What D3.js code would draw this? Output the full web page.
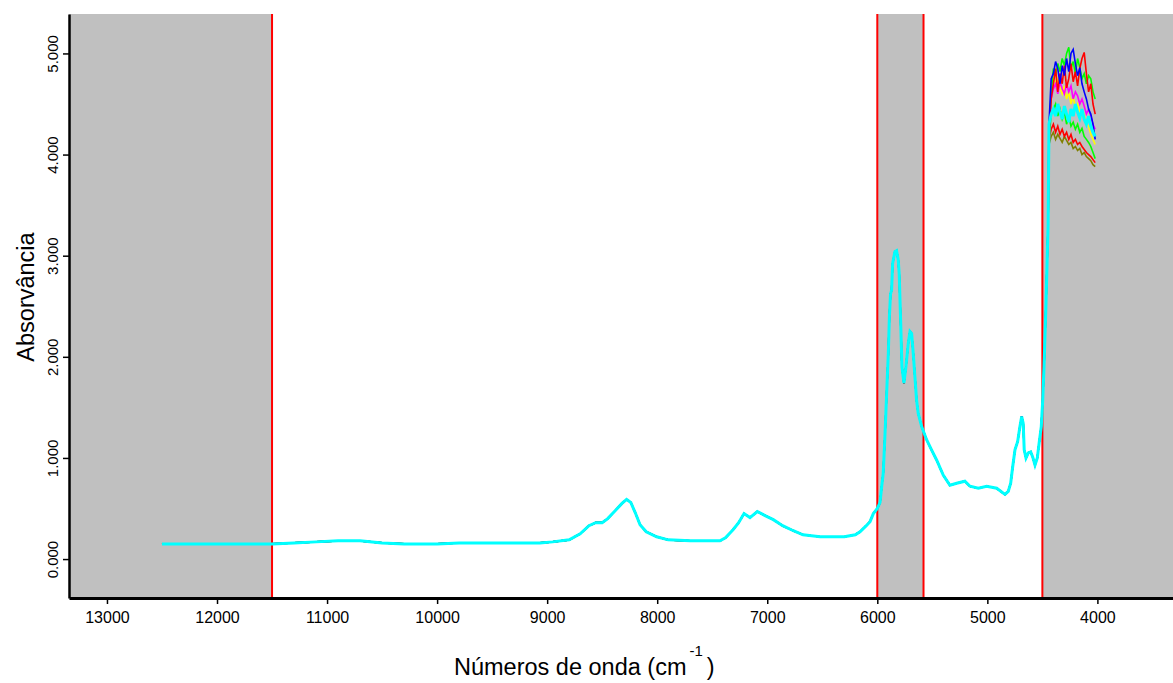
<!DOCTYPE html>
<html>
<head>
<meta charset="utf-8">
<script src="https://cdn.jsdelivr.net/npm/d3@7"></script>
<style>
  html, body { margin: 0; padding: 0; background: #ffffff; }
  svg { display: block; }
  text { font-family: "Liberation Sans", Arial, sans-serif; fill: #000; }
</style>
</head>
<body>
<svg id="chart" width="1173" height="683"></svg>
<script>
// Common NIR spectrum shared by all samples (cm-1, absorbance)
const baseWavenumbers = [12500, 12000, 11500, 11300, 11100, 10900, 10700, 10500, 10300, 10000,
  9800, 9500, 9200, 9065, 8950, 8800, 8700, 8620, 8560, 8500, 8450, 8380, 8320, 8278, 8240,
  8200, 8156, 8100, 8005, 7900, 7700, 7500, 7430, 7380, 7311, 7260, 7211, 7157, 7090, 7020,
  6945, 6860, 6763, 6675, 6520, 6300, 6200, 6157, 6100, 6066, 6036, 6000, 5975, 5960, 5946,
  5931, 5915, 5900, 5890, 5880, 5870, 5861, 5840, 5825, 5810, 5801, 5788, 5776, 5758, 5740, 5719,
  5703, 5688, 5673, 5658, 5643, 5628, 5597, 5552, 5507, 5461, 5401, 5340, 5279, 5204, 5158,
  5082, 5006, 4915, 4840, 4810, 4788, 4770, 4749, 4725, 4704, 4688, 4674, 4665, 4649, 4628,
  4606, 4588, 4567, 4546, 4528, 4510, 4497, 4485, 4467, 4455, 4448];
const baseAbsorbance = [0.15, 0.15, 0.15, 0.16, 0.17, 0.18, 0.18, 0.16, 0.15, 0.15,
  0.16, 0.16, 0.16, 0.16, 0.17, 0.19, 0.25, 0.33, 0.36, 0.36, 0.40, 0.48, 0.55, 0.59, 0.56,
  0.46, 0.34, 0.27, 0.22, 0.19, 0.18, 0.18, 0.18, 0.21, 0.29, 0.36, 0.45, 0.41, 0.47, 0.43,
  0.39, 0.33, 0.28, 0.24, 0.22, 0.22, 0.24, 0.27, 0.33, 0.37, 0.45, 0.50, 0.56, 0.72, 0.85,
  1.21, 1.64, 2.03, 2.40, 2.62, 2.66, 2.92, 3.04, 3.05, 2.96, 2.82, 2.36, 1.90, 1.74, 1.90, 2.13,
  2.25, 2.23, 2.03, 1.80, 1.57, 1.44, 1.31, 1.18, 1.08, 0.98, 0.83, 0.73, 0.75, 0.77, 0.72,
  0.70, 0.72, 0.70, 0.64, 0.67, 0.75, 0.91, 1.08, 1.16, 1.31, 1.41, 1.34, 1.08, 1.00, 1.05,
  1.06, 1.01, 0.93, 1.00, 1.16, 1.31, 1.57, 1.90, 2.53, 3.02, 3.30];

// Saturated region, where the samples separate (cm-1)
const satWavenumbers = [4440, 4420, 4400, 4380, 4360, 4340, 4320, 4300, 4280, 4260, 4240,
  4220, 4200, 4180, 4160, 4140, 4120, 4100, 4080, 4060, 4040, 4020];

const olive   = [4.10, 4.18, 4.22, 4.15, 4.20, 4.16, 4.12, 4.18, 4.14, 4.10, 4.12, 4.06, 4.08, 4.04, 4.06, 4.00, 4.02, 3.98, 3.96, 3.94, 3.90, 3.88];
const redLow  = [4.15, 4.25, 4.30, 4.22, 4.28, 4.20, 4.25, 4.18, 4.22, 4.15, 4.20, 4.12, 4.15, 4.10, 4.12, 4.08, 4.05, 4.02, 4.00, 3.98, 3.95, 3.92];
const yellow  = [4.20, 4.60, 4.78, 4.70, 4.75, 4.66, 4.60, 4.68, 4.55, 4.62, 4.50, 4.58, 4.45, 4.50, 4.42, 4.38, 4.40, 4.30, 4.28, 4.20, 4.15, 4.10];
const magenta = [4.25, 4.55, 4.65, 4.70, 4.60, 4.72, 4.65, 4.60, 4.70, 4.62, 4.68, 4.55, 4.62, 4.58, 4.50, 4.55, 4.48, 4.40, 4.45, 4.38, 4.30, 4.25];
const greenLow= [4.15, 4.40, 4.45, 4.50, 4.38, 4.45, 4.35, 4.42, 4.30, 4.38, 4.28, 4.32, 4.25, 4.30, 4.22, 4.26, 4.18, 4.15, 4.12, 4.08, 4.02, 3.96];
const green   = [4.25, 4.60, 4.85, 4.78, 4.90, 4.82, 4.95, 4.88, 5.00, 5.06, 4.85, 4.92, 4.80, 4.95, 4.86, 4.75, 4.80, 4.70, 4.78, 4.75, 4.62, 4.55];
const red     = [4.20, 4.55, 4.70, 4.85, 4.62, 4.80, 4.70, 4.88, 4.66, 4.75, 4.90, 4.72, 4.82, 4.68, 4.85, 4.95, 5.01, 4.80, 4.62, 4.70, 4.50, 4.40];
const blue    = [4.30, 4.75, 4.80, 4.92, 4.85, 4.70, 4.88, 4.78, 4.95, 4.82, 5.00, 5.04, 4.90, 4.78, 4.86, 4.70, 4.62, 4.55, 4.45, 4.40, 4.30, 4.15];
const cyan    = [4.30, 4.40, 4.45, 4.38, 4.50, 4.42, 4.35, 4.48, 4.40, 4.32, 4.45, 4.38, 4.50, 4.42, 4.36, 4.45, 4.35, 4.30, 4.38, 4.28, 4.22, 4.18];

const sampleValues = [olive, redLow, yellow, magenta, greenLow, green, red, blue, cyan];
const sampleColors = ["#808000", "#ff0000", "#ffff00", "#ff00ff", "#00ff00", "#00ff00", "#ff0000", "#0000ff", "#00ffff"];

// Axis ticks and excluded spectral ranges
const xTicks = [13000, 12000, 11000, 10000, 9000, 8000, 7000, 6000, 5000, 4000];
const yTicks = [0, 1, 2, 3, 4, 5];
const excludedRanges = [[13345, 11500], [6000, 5580], [4500, 3313]];
const cutLines = [11500, 6000, 5580, 4500];

const svg = d3.select("#chart");
const plotLeft = 69, plotTop = 14, plotRight = 1173, plotBottom = 598;

const x = d3.scaleLinear().domain([13345, 3313]).range([plotLeft, plotRight]);
const y = d3.scaleLinear().domain([-0.385, 5.39]).range([plotBottom, plotTop]);

// Excluded regions
svg.append("g").selectAll("rect").data(excludedRanges).join("rect")
  .attr("x", d => x(d[0]))
  .attr("y", plotTop)
  .attr("width", d => x(d[1]) - x(d[0]))
  .attr("height", plotBottom - plotTop)
  .attr("fill", "#c0c0c0");

svg.append("g").selectAll("line").data(cutLines).join("line")
  .attr("x1", d => x(d)).attr("x2", d => x(d))
  .attr("y1", plotTop).attr("y2", plotBottom)
  .attr("stroke", "#ff0000").attr("stroke-width", 2);

// Spectra
const line = d3.line().x(d => x(d[0])).y(d => y(d[1]));
const basePoints = baseWavenumbers.map((w, i) => [w, baseAbsorbance[i]]);
const spectra = sampleValues.map((vals, k) => ({
  color: sampleColors[k],
  points: basePoints.concat(satWavenumbers.map((w, i) => [w, vals[i]]))
}));

svg.append("g").selectAll("path").data(spectra).join("path")
  .attr("d", d => line(d.points))
  .attr("fill", "none")
  .attr("stroke", d => d.color)
  .attr("stroke-width", (d, i) => i === spectra.length - 1 ? 3 : 1.6)
  .attr("stroke-linejoin", "miter");

// Axes
const xAxis = d3.axisBottom(x).tickValues(xTicks).tickFormat(d3.format("d")).tickSize(6).tickSizeOuter(0);
const gx = svg.append("g").attr("transform", `translate(0,${plotBottom})`).call(xAxis);
gx.select(".domain").attr("stroke", "#000").attr("stroke-width", 3);
gx.selectAll(".tick line").attr("stroke", "#000").attr("stroke-width", 1.5);
gx.selectAll(".tick text").attr("font-size", 16).attr("dy", "1.0em")
  .attr("font-family", "Liberation Sans, Arial, sans-serif").attr("fill", "#222");

const yAxis = d3.axisLeft(y).tickValues(yTicks).tickFormat(d3.format(".3f")).tickSize(6).tickSizeOuter(0);
const gy = svg.append("g").attr("transform", `translate(${plotLeft},0)`).call(yAxis);
gy.select(".domain").attr("stroke", "#000").attr("stroke-width", 2.5);
gy.selectAll(".tick line").attr("stroke", "#000").attr("stroke-width", 1.5);
gy.selectAll(".tick text")
  .attr("font-size", 15)
  .attr("font-family", "Liberation Sans, Arial, sans-serif")
  .attr("fill", "#222")
  .attr("text-anchor", "middle")
  .attr("x", null).attr("dy", null)
  .attr("transform", "translate(-11,0) rotate(-90)");

// Axis titles
const xTitle = svg.append("text")
  .attr("x", 454).attr("y", 675)
  .attr("font-size", 23.5);
xTitle.append("tspan").text("Números de onda (cm");
xTitle.append("tspan").attr("dy", -19).attr("dx", 3).attr("font-size", 15).text("-1");
xTitle.append("tspan").attr("dy", 19).attr("dx", 4).text(")");

svg.append("text")
  .attr("transform", "translate(34,297) rotate(-90)")
  .attr("text-anchor", "middle")
  .attr("font-size", 23.5)
  .text("Absorvância");
</script>
</body>
</html>
